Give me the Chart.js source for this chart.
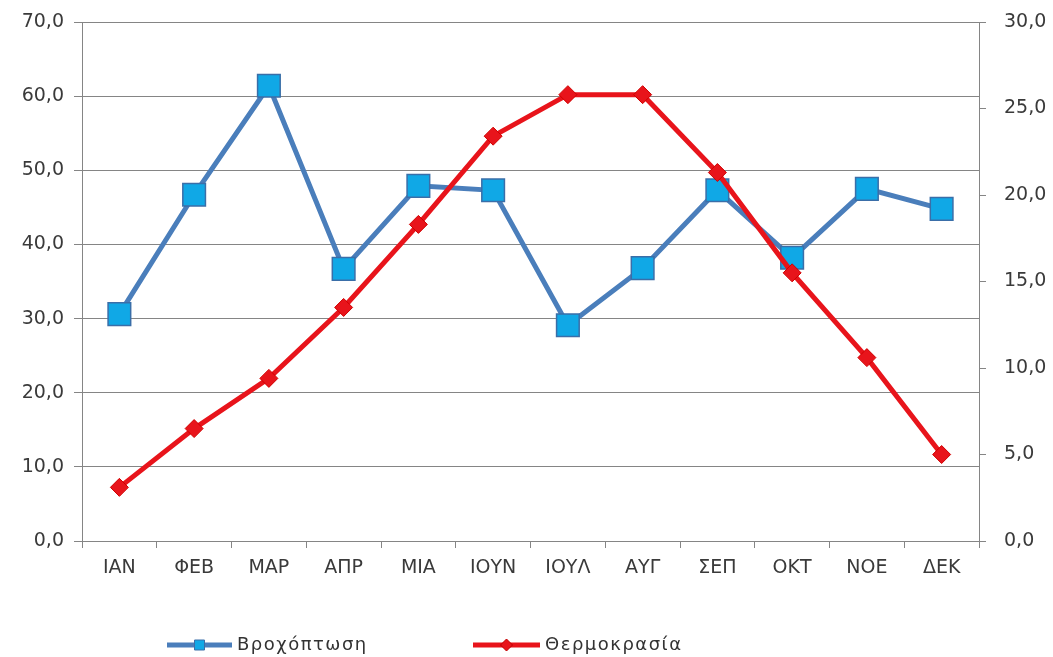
<!DOCTYPE html>
<html>
<head>
<meta charset="utf-8">
<script src="https://cdn.jsdelivr.net/npm/chart.js@4"></script>
<style>
  html, body { margin: 0; padding: 0; background: #fff; }
  #wrap { width: 1053px; height: 657px; position: relative; }
</style>
</head>
<body>
<div id="wrap"><canvas id="climateChart"></canvas></div>
<script>
// Months (Greek abbreviations)
const months = ['ΙΑΝ', 'ΦΕΒ', 'ΜΑΡ', 'ΑΠΡ', 'ΜΙΑ', 'ΙΟΥΝ', 'ΙΟΥΛ', 'ΑΥΓ', 'ΣΕΠ', 'ΟΚΤ', 'ΝΟΕ', 'ΔΕΚ'];

// Rainfall (left axis)
const rainfall = [30.6, 46.7, 61.4, 36.7, 47.9, 47.3, 29.1, 36.8, 47.3, 38.2, 47.5, 44.8];

// Temperature (right axis)
const temperature = [3.1, 6.5, 9.4, 13.5, 18.3, 23.4, 25.8, 25.8, 21.3, 15.5, 10.6, 5.0];

const rainLabel = 'Βροχόπτωση';
const tempLabel = 'Θερμοκρασία';

const gridColor = '#858585';
const tickFont = { family: 'DejaVu Sans', size: 19 };
const fmt = v => Number(v).toFixed(1).replace('.', ',');

/**
 * Legend drawn under the axis: line + marker + text for each series
 */
const lineLegend = {
    id: 'lineLegend',
    afterDraw(chart) {
        const ctx = chart.ctx;
        const y = 645;
        const items = [
            { x0: 167, x1: 232, text: rainLabel, color: '#4a7ebb', marker: 'rect', fill: '#10a8e6', stroke: '#3a6ea8' },
            { x0: 473, x1: 540, text: tempLabel, color: '#e8141b', marker: 'rectRot', fill: '#e8141b', stroke: '#c00000' },
        ];
        ctx.save();
        items.forEach(it => {
            ctx.strokeStyle = it.color;
            ctx.lineWidth = 5;
            ctx.beginPath();
            ctx.moveTo(it.x0, y);
            ctx.lineTo(it.x1, y);
            ctx.stroke();
            const cx = (it.x0 + it.x1) / 2;
            ctx.fillStyle = it.fill;
            ctx.strokeStyle = it.stroke;
            ctx.lineWidth = 1;
            ctx.beginPath();
            if (it.marker === 'rect') {
                ctx.rect(cx - 5, y - 5, 10, 10);
            } else {
                ctx.moveTo(cx - 6, y);
                ctx.lineTo(cx, y - 6);
                ctx.lineTo(cx + 6, y);
                ctx.lineTo(cx, y + 6);
                ctx.closePath();
            }
            ctx.fill();
            ctx.stroke();
            ctx.fillStyle = '#333';
            ctx.font = '18px "DejaVu Sans"';
            ctx.letterSpacing = '1.5px';
            ctx.textBaseline = 'middle';
            ctx.textAlign = 'left';
            ctx.fillText(it.text, it.x1 + 5, y);
        });
        ctx.restore();
    }
};

// Fix the axis box sizes so the plot area sits where the original has it
const fitY = width => scale => {
    scale.width = width;
    scale.paddingTop = 0;
    scale.paddingBottom = 0;
};

const ctx = document.getElementById('climateChart').getContext('2d');
const climateChart = new Chart(ctx, {
    type: 'line',
    data: {
        labels: months,
        datasets: [
            {
                label: tempLabel,
                data: temperature,
                yAxisID: 'y1',
                borderColor: '#e8141b',
                borderWidth: 5,
                pointStyle: 'rectRot',
                pointRadius: 9,
                pointBackgroundColor: '#e8141b',
                pointBorderColor: '#d00000',
                pointBorderWidth: 1,
                tension: 0,
            },
            {
                label: rainLabel,
                data: rainfall,
                yAxisID: 'y',
                borderColor: '#4a7ebb',
                borderWidth: 5,
                pointStyle: 'rect',
                pointRadius: 16,
                pointBackgroundColor: '#10a8e6',
                pointBorderColor: '#3a6ea8',
                pointBorderWidth: 1.5,
                tension: 0,
            },
        ],
    },
    options: {
        responsive: true,
        maintainAspectRatio: false,
        animation: false,
        layout: { padding: { top: 22, left: 0, right: 0, bottom: 0 } },
        plugins: {
            legend: { display: false },
            tooltip: { enabled: false },
        },
        scales: {
            x: {
                offset: true,
                afterFit: scale => { scale.height = 116; scale.paddingLeft = 0; scale.paddingRight = 0; },
                grid: { offset: true, drawOnChartArea: false, drawTicks: true, tickLength: 7, color: gridColor },
                border: { display: true, color: gridColor, width: 1 },
                ticks: { font: tickFont, color: '#3a3a3a', padding: 9 },
            },
            y: {
                position: 'left',
                min: 0,
                max: 70,
                afterFit: fitY(82),
                grid: { color: gridColor, lineWidth: 1, tickLength: 8 },
                border: { display: true, color: gridColor },
                ticks: { stepSize: 10, font: tickFont, color: '#3a3a3a', padding: 10, callback: fmt },
            },
            y1: {
                position: 'right',
                min: 0,
                max: 30,
                afterFit: fitY(74),
                grid: { drawOnChartArea: false, color: gridColor, tickLength: 7 },
                border: { display: true, color: gridColor },
                ticks: { stepSize: 5, font: tickFont, color: '#3a3a3a', padding: 18, callback: fmt },
            },
        },
    },
    plugins: [lineLegend],
});
</script>
</body>
</html>
